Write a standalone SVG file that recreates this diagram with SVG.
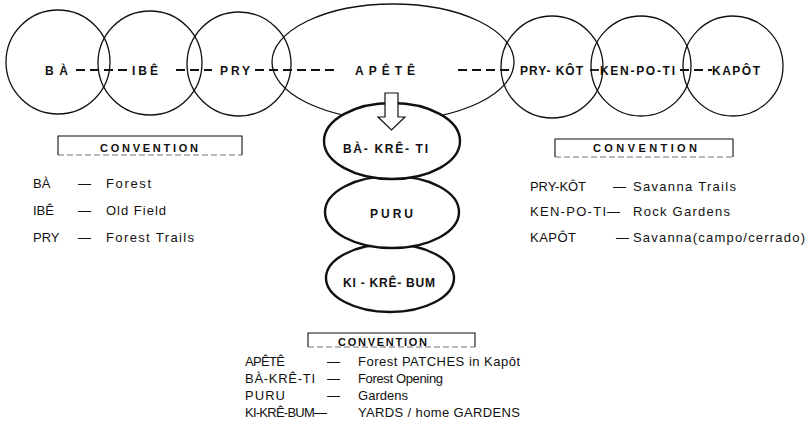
<svg xmlns="http://www.w3.org/2000/svg" width="809" height="423" viewBox="0 0 809 423">
<style>
.c{fill:none;stroke:#111;stroke-width:1.3}
.b{fill:#fff;stroke:#111;stroke-width:2.4}
.d{stroke:#111;stroke-width:1.8;stroke-dasharray:9 5;fill:none}
.lbl{font-family:"Liberation Sans","DejaVu Sans",sans-serif;font-weight:bold;font-size:12px;fill:#111}
.cv{font-family:"Liberation Sans","DejaVu Sans",sans-serif;font-weight:bold;font-size:11px;fill:#111}
.lg{font-family:"Liberation Sans","DejaVu Sans",sans-serif;font-size:13px;fill:#111}
.box{fill:none;stroke:#111;stroke-width:1.1}
</style>
<rect width="809" height="423" fill="#fff"/>
<g id="connectors">
<line class="d" x1="76" y1="70" x2="128" y2="70"/>
<line class="d" x1="176" y1="70" x2="212" y2="70"/>
<line class="d" x1="255" y1="70" x2="334" y2="70"/>
<line class="d" x1="458" y1="70" x2="512" y2="70"/>
<line class="d" x1="590" y1="70" x2="599" y2="70"/>
<line class="d" x1="680" y1="70" x2="712" y2="70"/>
</g>
<g id="ba"><circle class="c" cx="58" cy="62" r="52"/><text class="lbl" x="45" y="75" textLength="23">BÀ</text></g>
<g id="ibe"><circle class="c" cx="150" cy="63" r="52"/><text class="lbl" x="132" y="75" textLength="26">IBÊ</text></g>
<g id="pry"><circle class="c" cx="239" cy="64" r="52"/><text class="lbl" x="220" y="75" textLength="30">PRY</text></g>
<g id="apete"><ellipse class="c" cx="393" cy="62" rx="121" ry="58"/><text class="lbl" x="355" y="75" font-size="13" textLength="60">APÊTÊ</text></g>
<g id="prykot"><circle class="c" cx="552" cy="67" r="51"/><text class="lbl" x="520" y="75" textLength="63">PRY- KÔT</text></g>
<g id="kenpoti"><circle class="c" cx="641" cy="66" r="50"/><text class="lbl" x="600" y="75" textLength="75">KEN-PO-TI</text></g>
<g id="kapot"><circle class="c" cx="733" cy="66" r="50"/><text class="lbl" x="712" y="75" textLength="48">KAPÔT</text></g>
<g id="kikrebum"><ellipse class="b" cx="390" cy="278" rx="64" ry="34"/><text class="lbl" x="343" y="287" font-size="13" textLength="92">KI - KRÊ- BUM</text></g>
<g id="puru"><ellipse class="b" cx="392" cy="212" rx="67" ry="36"/><text class="lbl" x="370" y="218" font-size="13" textLength="43">PURU</text></g>
<g id="bakreti"><ellipse class="b" cx="392" cy="141" rx="68" ry="38"/><text class="lbl" x="343" y="153" font-size="13" textLength="85">BÀ- KRÊ- TI</text></g>
<g id="arrow"><path d="M385 93 H398 V117 H405 L391.5 130 L378 117 H385 Z" fill="#fff" stroke="#111" stroke-width="1.2"/></g>
<g id="legend-left">
<path class="box" d="M58 155 V136 H242 V155"/><line x1="58" y1="155" x2="242" y2="155" stroke="#111" stroke-width="0.6" stroke-dasharray="6 3"/>
<text class="cv" x="100" y="152" textLength="98">CONVENTION</text>
<text class="lg" x="33" y="188">BÀ</text><text class="lg" x="78" y="188">—</text><text class="lg" x="106" y="188" textLength="45">Forest</text>
<text class="lg" x="33" y="215">IBÊ</text><text class="lg" x="78" y="215">—</text><text class="lg" x="106" y="215" textLength="60">Old Field</text>
<text class="lg" x="33" y="242">PRY</text><text class="lg" x="78" y="242">—</text><text class="lg" x="106" y="242" textLength="88">Forest Trails</text>
</g>
<g id="legend-right">
<path class="box" d="M555 157 V139 H733 V157"/><line x1="555" y1="157" x2="733" y2="157" stroke="#111" stroke-width="0.6" stroke-dasharray="6 3"/>
<text class="cv" x="593" y="152" textLength="104">CONVENTION</text>
<text class="lg" x="530" y="191" textLength="56">PRY-KÔT</text><text class="lg" x="613" y="191">—</text><text class="lg" x="633" y="191" textLength="103">Savanna Trails</text>
<text class="lg" x="530" y="216" textLength="76">KEN-PO-TI</text><text class="lg" x="607" y="216">—</text><text class="lg" x="633" y="216" textLength="97">Rock Gardens</text>
<text class="lg" x="530" y="242" textLength="46">KAPÔT</text><text class="lg" x="616" y="242">—</text><text class="lg" x="633" y="242" textLength="172">Savanna(campo/cerrado)</text>
</g>
<g id="legend-bottom">
<path class="box" d="M308 347 V333 H475 V347"/><line x1="308" y1="347" x2="475" y2="347" stroke="#111" stroke-width="0.6" stroke-dasharray="6 3"/>
<text class="cv" x="338" y="346" textLength="89">CONVENTION</text>
<text class="lg" x="245" y="366" textLength="40">APÊTÊ</text><text class="lg" x="327" y="366">—</text><text class="lg" x="358" y="366" textLength="162">Forest PATCHES in Kapôt</text>
<text class="lg" x="245" y="383" textLength="70">BÀ-KRÊ-TI</text><text class="lg" x="327" y="383">—</text><text class="lg" x="358" y="383" textLength="85">Forest Opening</text>
<text class="lg" x="245" y="400" textLength="40">PURU</text><text class="lg" x="327" y="400">—</text><text class="lg" x="358" y="400" textLength="50">Gardens</text>
<text class="lg" x="245" y="417" textLength="82">KI-KRÊ-BUM—</text><text class="lg" x="358" y="417" textLength="162">YARDS / home GARDENS</text>
</g>
</svg>
